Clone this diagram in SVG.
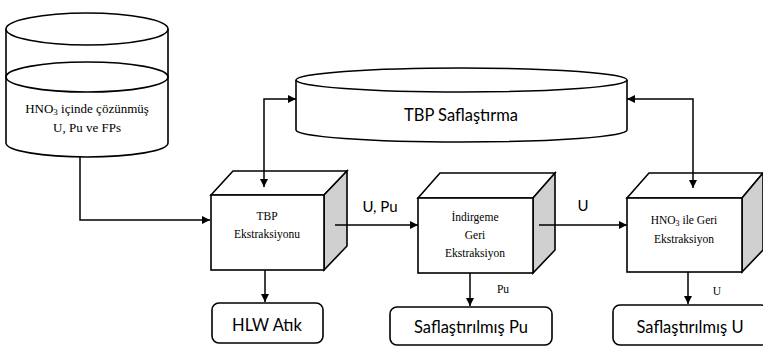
<svg xmlns="http://www.w3.org/2000/svg" width="763" height="350" viewBox="0 0 763 350">
<style>
.s{fill:none;stroke:#000;stroke-width:1.6}
.w{fill:#fff;stroke:#000;stroke-width:1.6}
.g{fill:#d0d0d0;stroke:#000;stroke-width:1.6}
.ln{fill:none;stroke:#000;stroke-width:1.5}
</style>
<defs>
<marker id="ah" viewBox="0 0 10 10" refX="10" refY="5" markerWidth="8" markerHeight="8" markerUnits="userSpaceOnUse" orient="auto-start-reverse">
<path d="M0,0 L10,5 L0,10 z" fill="#000"/>
</marker>
</defs>
<g id="feed">
<path class="w" d="M6,29 L6,143 A81,14 0 0 0 168,143 L168,29"/>
<ellipse class="w" cx="87" cy="29" rx="81" ry="16"/>
<ellipse class="s" cx="87" cy="77" rx="81" ry="15"/>
<g font-family="'Liberation Serif', 'Times New Roman', serif" text-anchor="middle" fill="#000" font-size="13">
<text x="87" y="113">HNO<tspan font-size="9" dy="2">3</tspan><tspan dy="-2"> içinde çözünmüş</tspan></text>
<text x="87" y="132">U, Pu ve FPs</text>
</g>
</g>
<g id="tbp-saflastirma">
<path class="w" d="M296,80 L296,130 A165.5,12 0 0 0 627,130 L627,80"/>
<ellipse class="w" cx="461.5" cy="80" rx="165.5" ry="12"/>
<text x="461" y="121" font-size="16.5" font-family="Lato, 'Liberation Sans', sans-serif" text-anchor="middle">TBP Saflaştırma</text>
</g>
<g id="tbp-ekstraksiyonu">
<path class="w" d="M211,195 L233,171 L347,171 L324,195 z"/>
<path class="g" d="M324,195 L347,171 L347,246 L324,270 z"/>
<rect class="w" x="211" y="195" width="113" height="75"/>
<g font-family="'Liberation Serif', 'Times New Roman', serif" text-anchor="middle" font-size="11.5">
<text x="267" y="220">TBP</text>
<text x="267" y="238">Ekstraksiyonu</text>
</g>
</g>
<g id="indirgeme">
<path class="w" d="M418,198 L440,173 L555,173 L533,198 z"/>
<path class="g" d="M533,198 L555,173 L555,250 L533,273 z"/>
<rect class="w" x="418" y="198" width="115" height="75"/>
<g font-family="'Liberation Serif', 'Times New Roman', serif" text-anchor="middle" font-size="11.5">
<text x="475" y="221">İndirgeme</text>
<text x="475" y="239">Geri</text>
<text x="475" y="257">Ekstraksiyon</text>
</g>
</g>
<g id="hno3-geri">
<path class="w" d="M627,198 L649,173 L763,173 L742,198 z"/>
<path class="g" d="M742,198 L763,173 L763,250 L742,272 z"/>
<rect class="w" x="627" y="198" width="115" height="74"/>
<g font-family="'Liberation Serif', 'Times New Roman', serif" text-anchor="middle" font-size="11.5">
<text x="684" y="224">HNO<tspan font-size="8" dy="2">3</tspan><tspan dy="-2"> ile Geri</tspan></text>
<text x="684" y="243">Ekstraksiyon</text>
</g>
</g>
<g id="hlw">
<rect class="w" x="212" y="303" width="111" height="40" rx="7"/>
<text x="267" y="331" font-size="16.5" font-family="Lato, 'Liberation Sans', sans-serif" text-anchor="middle">HLW Atık</text>
</g>
<g id="saf-pu">
<rect class="w" x="390" y="307" width="162" height="38" rx="7"/>
<text x="471" y="333" font-size="16.5" font-family="Lato, 'Liberation Sans', sans-serif" text-anchor="middle">Saflaştırılmış Pu</text>
</g>
<g id="saf-u">
<rect class="w" x="613" y="305" width="155" height="40" rx="7"/>
<text x="690" y="333" font-size="16.5" font-family="Lato, 'Liberation Sans', sans-serif" text-anchor="middle">Saflaştırılmış U</text>
</g>
<g id="connectors">
<path class="ln" d="M80,157 L80,220 L210,220" marker-end="url(#ah)"/>
<path class="ln" d="M264,187 L264,99 L296,99" marker-start="url(#ah)" marker-end="url(#ah)"/>
<path class="ln" d="M693,188 L693,99 L627,99" marker-start="url(#ah)" marker-end="url(#ah)"/>
<path class="ln" d="M335,225 L418,225" marker-end="url(#ah)"/>
<path class="ln" d="M539,225 L627,225" marker-end="url(#ah)"/>
<path class="ln" d="M265,270 L265,302" marker-end="url(#ah)"/>
<path class="ln" d="M470,273 L470,306" marker-end="url(#ah)"/>
<path class="ln" d="M688,272 L688,304" marker-end="url(#ah)"/>
<text x="380" y="212" font-size="15" font-family="Lato, 'Liberation Sans', sans-serif" text-anchor="middle">U, Pu</text>
<text x="583" y="211" font-size="15" font-family="Lato, 'Liberation Sans', sans-serif" text-anchor="middle">U</text>
<text x="503" y="293" font-size="11.5" font-family="'Liberation Serif', 'Times New Roman', serif" text-anchor="middle">Pu</text>
<text x="717" y="295" font-size="11.5" font-family="'Liberation Serif', 'Times New Roman', serif" text-anchor="middle">U</text>
</g>
</svg>
